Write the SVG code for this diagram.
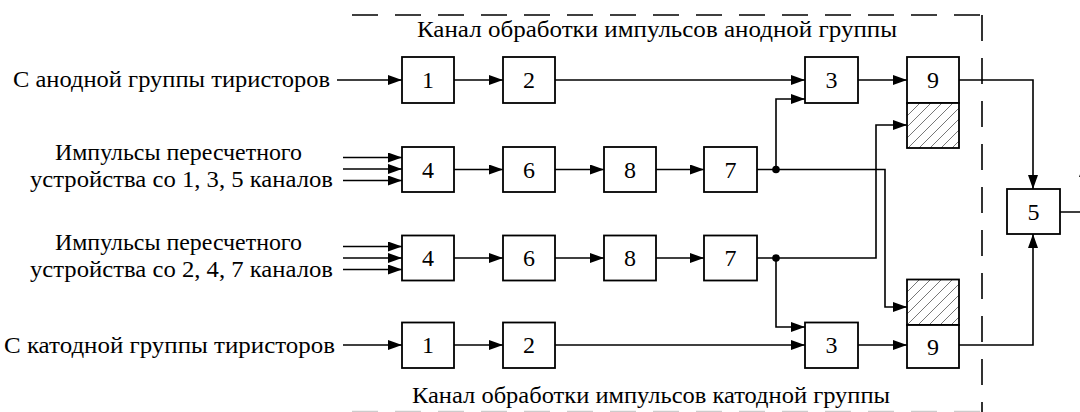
<svg xmlns="http://www.w3.org/2000/svg" width="1080" height="412" viewBox="0 0 1080 412">
<style>
.box{fill:#fff;stroke:#000;stroke-width:1.8}
.hatch{fill:url(#hatch);stroke:#000;stroke-width:1.8}
.lbl{font-family:"Liberation Serif","Times New Roman",serif;font-size:23.5px;fill:#000}
.num{font-family:"Liberation Serif","Times New Roman",serif;font-size:24px;fill:#000;text-anchor:middle;dominant-baseline:central}
.ln{fill:none;stroke:#000;stroke-width:1.6}
.arr{marker-end:url(#ah)}
.dash{fill:none;stroke:#000;stroke-width:1.6;stroke-dasharray:26 17}
</style>
<defs>
<marker id="ah" markerUnits="userSpaceOnUse" markerWidth="15" markerHeight="11" refX="14" refY="5" orient="auto" viewBox="0 0 15 11">
<path d="M0,0 L14,5 L0,10 z" fill="#000"/>
</marker>
<pattern id="hatch" patternUnits="userSpaceOnUse" width="11" height="11">
<rect width="11" height="11" fill="#fff"/>
<path d="M-1,12 L12,-1 M-6,6 L6,-6 M5,17 L17,5" stroke="#777" stroke-width="1"/>
</pattern>
</defs>

<g id="frame">
<path class="dash" d="M352,15 H982"/>
<path class="dash" d="M982,15 V412"/>
<path d="M352,411.5 H982" fill="none" stroke="#ccc" stroke-width="1.6" stroke-dasharray="26 17"/>
</g>

<g id="labels">
<text class="lbl" x="417" y="37" textLength="480" lengthAdjust="spacingAndGlyphs">Канал обработки импульсов анодной группы</text>
<text class="lbl" x="412" y="403" textLength="478" lengthAdjust="spacingAndGlyphs">Канал обработки импульсов катодной группы</text>
<text class="lbl" x="13" y="87" textLength="317" lengthAdjust="spacingAndGlyphs">С анодной группы тиристоров</text>
<text class="lbl" x="55" y="160" textLength="247" lengthAdjust="spacingAndGlyphs">Импульсы пересчетного</text>
<text class="lbl" x="30" y="187" textLength="303" lengthAdjust="spacingAndGlyphs">устройства со 1, 3, 5 каналов</text>
<text class="lbl" x="55" y="250" textLength="247" lengthAdjust="spacingAndGlyphs">Импульсы пересчетного</text>
<text class="lbl" x="30" y="277" textLength="303" lengthAdjust="spacingAndGlyphs">устройства со 2, 4, 7 каналов</text>
<text class="lbl" x="4" y="353" textLength="331" lengthAdjust="spacingAndGlyphs">С катодной группы тиристоров</text>
</g>

<g id="connectors">
<!-- row 1 -->
<path class="ln arr" d="M337,80 H402"/>
<path class="ln arr" d="M454,80 H503"/>
<path class="ln arr" d="M555,80 H805"/>
<path class="ln arr" d="M858,80 H907"/>
<path class="ln arr" d="M959,80 H1033 V189"/>
<!-- row 2 -->
<path class="ln arr" d="M343,157.5 H402"/>
<path class="ln arr" d="M343,169 H402"/>
<path class="ln arr" d="M343,180.5 H402"/>
<path class="ln arr" d="M454,169.5 H503"/>
<path class="ln arr" d="M555,169.5 H604"/>
<path class="ln arr" d="M656,169.5 H704"/>
<path class="ln arr" d="M757,169.5 H885 V307 H907"/>
<path class="ln arr" d="M776,169.5 V99 H805"/>
<!-- row 3 -->
<path class="ln arr" d="M343,246.5 H402"/>
<path class="ln arr" d="M343,258 H402"/>
<path class="ln arr" d="M343,269.5 H402"/>
<path class="ln arr" d="M454,258 H503"/>
<path class="ln arr" d="M555,258 H604"/>
<path class="ln arr" d="M656,258 H704"/>
<path class="ln arr" d="M757,258 H876 V125 H907"/>
<path class="ln arr" d="M776,258 V327 H805"/>
<!-- row 4 -->
<path class="ln arr" d="M343,345 H402"/>
<path class="ln arr" d="M454,345 H503"/>
<path class="ln arr" d="M555,345 H805"/>
<path class="ln arr" d="M858,345 H907"/>
<path class="ln arr" d="M959,345 H1033 V234"/>
<!-- output -->
<path class="ln arr" d="M1060,212 H1084 V163"/>
<circle cx="776" cy="169.5" r="3.8" fill="#000"/>
<circle cx="776" cy="258" r="3.8" fill="#000"/>
</g>

<g id="n1a"><rect class="box" x="402" y="57" width="52" height="46"/><text class="num" x="428" y="80">1</text></g>
<g id="n2a"><rect class="box" x="503" y="57" width="52" height="46"/><text class="num" x="529" y="80">2</text></g>
<g id="n3a"><rect class="box" x="805" y="57" width="53" height="46"/><text class="num" x="831.5" y="80">3</text></g>
<g id="n9a"><rect class="box" x="907" y="57" width="52" height="46"/><text class="num" x="933" y="80">9</text><rect class="hatch" x="907" y="103" width="52" height="45"/></g>

<g id="n4a"><rect class="box" x="402" y="147" width="52" height="45"/><text class="num" x="428" y="169.5">4</text></g>
<g id="n6a"><rect class="box" x="503" y="147" width="52" height="45"/><text class="num" x="529" y="169.5">6</text></g>
<g id="n8a"><rect class="box" x="604" y="147" width="52" height="45"/><text class="num" x="630" y="169.5">8</text></g>
<g id="n7a"><rect class="box" x="704" y="147" width="53" height="45"/><text class="num" x="730.5" y="169.5">7</text></g>

<g id="n4k"><rect class="box" x="402" y="235.5" width="52" height="45"/><text class="num" x="428" y="258">4</text></g>
<g id="n6k"><rect class="box" x="503" y="235.5" width="52" height="45"/><text class="num" x="529" y="258">6</text></g>
<g id="n8k"><rect class="box" x="604" y="235.5" width="52" height="45"/><text class="num" x="630" y="258">8</text></g>
<g id="n7k"><rect class="box" x="704" y="235.5" width="53" height="45"/><text class="num" x="730.5" y="258">7</text></g>

<g id="n1k"><rect class="box" x="402" y="322.5" width="52" height="45.5"/><text class="num" x="428" y="345">1</text></g>
<g id="n2k"><rect class="box" x="503" y="322.5" width="52" height="45.5"/><text class="num" x="529" y="345">2</text></g>
<g id="n3k"><rect class="box" x="805" y="322.5" width="53" height="45.5"/><text class="num" x="831.5" y="345">3</text></g>
<g id="n9k"><rect class="hatch" x="907" y="279.5" width="52" height="45.5"/><rect class="box" x="907" y="325" width="52" height="43"/><text class="num" x="933" y="346.5">9</text></g>

<g id="n5"><rect class="box" x="1007" y="189" width="53" height="45"/><text class="num" x="1033.5" y="211.5">5</text></g>
</svg>
